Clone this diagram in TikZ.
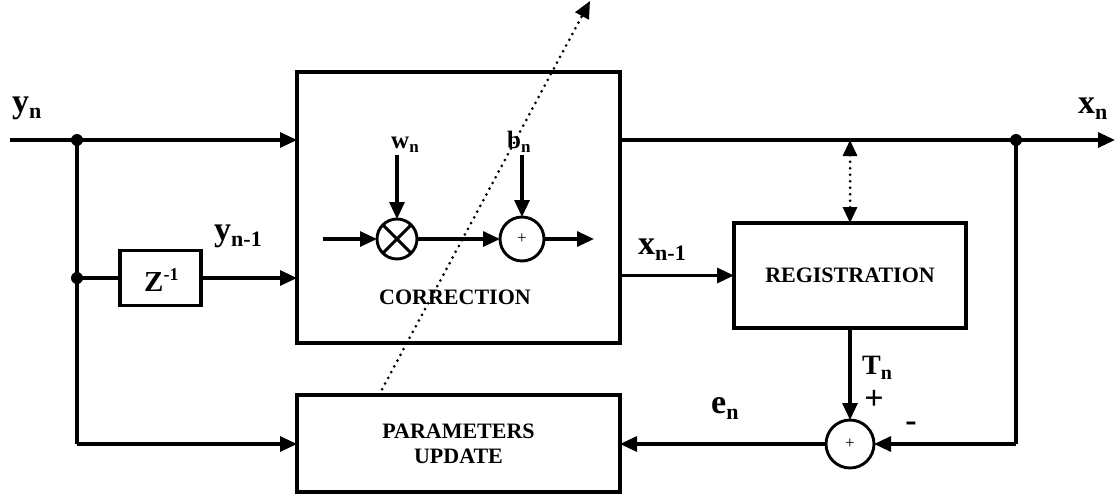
\documentclass[tikz,border=0pt]{standalone}
\usepackage{fontspec}
\setmainfont{Liberation Serif}
\usetikzlibrary{arrows.meta,calc}
\newcommand{\mvar}[2]{{\fontsize{34}{34}\selectfont #1}\raisebox{-6.5pt}{\fontsize{22}{22}\selectfont #2}}
\newcommand{\svar}[2]{{\fontsize{25}{25}\selectfont #1}\raisebox{-4.5pt}{\fontsize{17}{17}\selectfont #2}}
\tikzset{
  wire/.style={line width=3.2pt},
  arr/.style={wire,-{Triangle[length=17pt,width=15pt]}},
  dotln/.style={line width=3pt,line cap=round,dash pattern=on 0pt off 6.5pt},
  blk/.style={draw,line width=3.2pt,inner sep=0pt,outer sep=0pt,font=\bfseries\fontsize{22}{25}\selectfont,align=center},
  sumc/.style={draw,circle,line width=2.9pt,inner sep=0pt,outer sep=0pt,font=\fontsize{17}{17}\selectfont},
  lab/.style={anchor=base west,inner sep=0pt,font=\bfseries},
  junc/.style={fill,circle,inner sep=0pt,minimum size=12pt}
}
\begin{document}
\begin{tikzpicture}[x=1pt,y=-1pt]
\useasboundingbox (0,0) rectangle (1115,498);
% blocks
\node[blk,minimum width=323pt,minimum height=271pt] (corr) at (458.5,207.5) {};
\node[blk,minimum width=81pt,minimum height=55pt] (z) at (160.5,278) {};
\node[lab] (zt) at (144,291) {{\fontsize{29}{29}\selectfont Z}\raisebox{11pt}{\fontsize{18}{18}\selectfont -1}};
\node[blk,minimum width=232pt,minimum height=105pt] (reg) at (850,275.5) {REGISTRATION};
\node[blk,minimum width=323pt,minimum height=97pt] (par) at (458.5,443.5) {PARAMETERS\\UPDATE};
\node[inner sep=0pt,font=\bfseries\fontsize{22}{22}\selectfont] (corrt) at (455,297.5) {CORRECTION};
% operators
\node[sumc,minimum size=40pt] (mul) at (397,239) {};
\draw[line width=2.9pt] (mul.north west) -- (mul.south east) (mul.north east) -- (mul.south west);
\node[sumc,minimum size=44pt] (add1) at (522,239) {+};
\node[sumc,minimum size=48pt] (add2) at (850,444) {+};
% coordinates
\coordinate (in) at (10,140);
\coordinate (j1) at (77,140);
\coordinate (j2) at (77,278);
\coordinate (j3) at (77,444);
\coordinate (j4) at (1016,140);
\coordinate (j5) at (1016,444);
\coordinate (out) at (1115,140);
\coordinate (cs) at (323,239);
\coordinate (ce) at (594,239);
\coordinate (wt) at (397,155);
\coordinate (bt) at (522,155);
\coordinate (dtip) at (590,1);
\coordinate (dbase) at (379,395);
% left side
\draw[arr] (in) -- (j1 -| corr.west);
\draw[wire] (j1) -- (j3);
\draw[wire] (j2) -- (z.west);
\draw[arr] (z.east) -- (j2 -| corr.west);
\draw[arr] (j3) -- (j3 -| par.west);
\node[junc] (d1) at (j1) {};
\node[junc] (d2) at (j2) {};
% inside correction
\draw[arr] (cs) -- (mul.west);
\draw[arr] (mul.east) -- (add1.west);
\draw[arr] (add1.east) -- (ce);
\draw[arr] (wt) -- (mul.north);
\draw[arr] (bt) -- (add1.north);
% right side
\draw[arr] (j4 -| corr.east) -- (out);
\draw[arr] (reg.west -| corr.east) -- (reg.west);
\draw[wire] (j4) -- (j5);
\draw[arr] (j5) -- (add2.east);
\draw[arr] (reg.south) -- (add2.north);
\draw[arr] (add2.west) -- (add2.west -| par.east);
\node[junc] (d3) at (j4) {};
\draw[dotln,{Triangle[length=16pt,width=14pt]}-{Triangle[length=16pt,width=14pt]}] (reg.north |- j4) -- (reg.north);
% dotted diagonal
\draw[dotln,-{Triangle[length=17pt,width=15pt]}] (dbase) -- (dtip);
% labels
\node[lab] (lyn) at (12,112) {\mvar{y}{n}};
\node[lab] (lyn1) at (214,240) {\mvar{y}{n-1}};
\node[lab] (lxn) at (1078,113) {\mvar{x}{n}};
\node[lab] (lxn1) at (638,254) {\mvar{x}{n-1}};
\node[lab] (len) at (711,413) {\mvar{e}{n}};
\node[lab] (ltn) at (862,374) {{\fontsize{28}{28}\selectfont T}\raisebox{-5pt}{\fontsize{20}{20}\selectfont n}};
\node[lab] (lwn) at (391,148) {\svar{w}{n}};
\node[lab] (lbn) at (507,148) {\svar{b}{n}};
\node[inner sep=0pt,font=\bfseries\fontsize{34}{34}\selectfont] (plus) at (874,400) {+};
\node[inner sep=0pt,font=\bfseries\fontsize{34}{34}\selectfont] (minus) at (911,427) {-};
\end{tikzpicture}
\end{document}
